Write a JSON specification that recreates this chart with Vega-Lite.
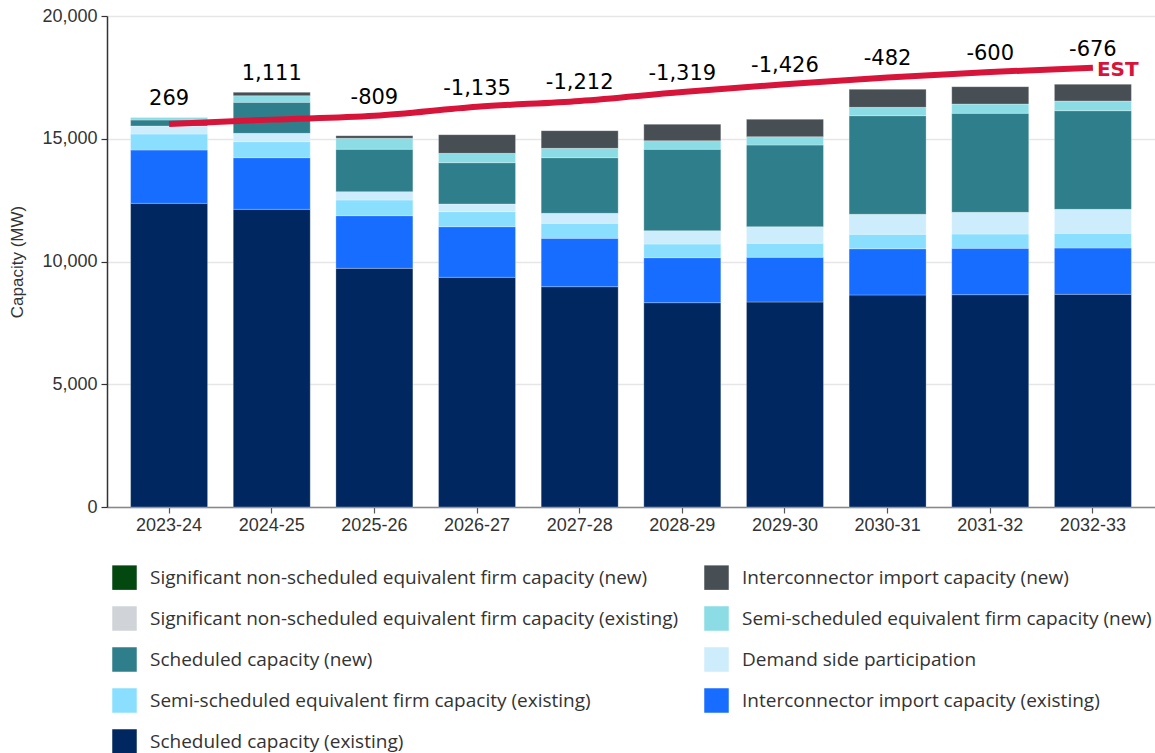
{
  "$schema": "https://vega.github.io/schema/vega-lite/v6.json",
  "autosize": {"type": "none"},
  "padding": {"left": 107, "top": 16, "right": 0, "bottom": 246},
  "width": 1048,
  "height": 491,
  "background": "white",
  "config": {
    "view": {"stroke": null},
    "font": "Liberation Sans",
    "locale": {"number": {"decimal": ".", "thousands": ",", "grouping": [3], "currency": ["$", ""], "minus": "-"}}
  },
  "datasets": {
    "capacity": [
      {"year": "2023-24", "category": "Scheduled capacity (existing)", "mw": 12370},
      {"year": "2023-24", "category": "Interconnector import capacity (existing)", "mw": 2172},
      {"year": "2023-24", "category": "Semi-scheduled equivalent firm capacity (existing)", "mw": 651},
      {"year": "2023-24", "category": "Demand side participation", "mw": 326},
      {"year": "2023-24", "category": "Scheduled capacity (new)", "mw": 245},
      {"year": "2023-24", "category": "Semi-scheduled equivalent firm capacity (new)", "mw": 110},
      {"year": "2023-24", "category": "Interconnector import capacity (new)", "mw": 0},

      {"year": "2024-25", "category": "Scheduled capacity (existing)", "mw": 12126},
      {"year": "2024-25", "category": "Interconnector import capacity (existing)", "mw": 2102},
      {"year": "2024-25", "category": "Semi-scheduled equivalent firm capacity (existing)", "mw": 652},
      {"year": "2024-25", "category": "Demand side participation", "mw": 340},
      {"year": "2024-25", "category": "Scheduled capacity (new)", "mw": 1262},
      {"year": "2024-25", "category": "Semi-scheduled equivalent firm capacity (new)", "mw": 271},
      {"year": "2024-25", "category": "Interconnector import capacity (new)", "mw": 137},

      {"year": "2025-26", "category": "Scheduled capacity (existing)", "mw": 9723},
      {"year": "2025-26", "category": "Interconnector import capacity (existing)", "mw": 2143},
      {"year": "2025-26", "category": "Semi-scheduled equivalent firm capacity (existing)", "mw": 639},
      {"year": "2025-26", "category": "Demand side participation", "mw": 340},
      {"year": "2025-26", "category": "Scheduled capacity (new)", "mw": 1727},
      {"year": "2025-26", "category": "Semi-scheduled equivalent firm capacity (new)", "mw": 448},
      {"year": "2025-26", "category": "Interconnector import capacity (new)", "mw": 106},

      {"year": "2026-27", "category": "Scheduled capacity (existing)", "mw": 9356},
      {"year": "2026-27", "category": "Interconnector import capacity (existing)", "mw": 2062},
      {"year": "2026-27", "category": "Semi-scheduled equivalent firm capacity (existing)", "mw": 612},
      {"year": "2026-27", "category": "Demand side participation", "mw": 312},
      {"year": "2026-27", "category": "Scheduled capacity (new)", "mw": 1683},
      {"year": "2026-27", "category": "Semi-scheduled equivalent firm capacity (new)", "mw": 382},
      {"year": "2026-27", "category": "Interconnector import capacity (new)", "mw": 759},

      {"year": "2027-28", "category": "Scheduled capacity (existing)", "mw": 8974},
      {"year": "2027-28", "category": "Interconnector import capacity (existing)", "mw": 1971},
      {"year": "2027-28", "category": "Semi-scheduled equivalent firm capacity (existing)", "mw": 611},
      {"year": "2027-28", "category": "Demand side participation", "mw": 407},
      {"year": "2027-28", "category": "Scheduled capacity (new)", "mw": 2265},
      {"year": "2027-28", "category": "Semi-scheduled equivalent firm capacity (new)", "mw": 382},
      {"year": "2027-28", "category": "Interconnector import capacity (new)", "mw": 719},

      {"year": "2028-29", "category": "Scheduled capacity (existing)", "mw": 8322},
      {"year": "2028-29", "category": "Interconnector import capacity (existing)", "mw": 1833},
      {"year": "2028-29", "category": "Semi-scheduled equivalent firm capacity (existing)", "mw": 558},
      {"year": "2028-29", "category": "Demand side participation", "mw": 542},
      {"year": "2028-29", "category": "Scheduled capacity (new)", "mw": 3315},
      {"year": "2028-29", "category": "Semi-scheduled equivalent firm capacity (new)", "mw": 351},
      {"year": "2028-29", "category": "Interconnector import capacity (new)", "mw": 668},

      {"year": "2029-30", "category": "Scheduled capacity (existing)", "mw": 8350},
      {"year": "2029-30", "category": "Interconnector import capacity (existing)", "mw": 1821},
      {"year": "2029-30", "category": "Semi-scheduled equivalent firm capacity (existing)", "mw": 570},
      {"year": "2029-30", "category": "Demand side participation", "mw": 677},
      {"year": "2029-30", "category": "Scheduled capacity (new)", "mw": 3327},
      {"year": "2029-30", "category": "Semi-scheduled equivalent firm capacity (new)", "mw": 339},
      {"year": "2029-30", "category": "Interconnector import capacity (new)", "mw": 708},

      {"year": "2030-31", "category": "Scheduled capacity (existing)", "mw": 8635},
      {"year": "2030-31", "category": "Interconnector import capacity (existing)", "mw": 1886},
      {"year": "2030-31", "category": "Semi-scheduled equivalent firm capacity (existing)", "mw": 587},
      {"year": "2030-31", "category": "Demand side participation", "mw": 815},
      {"year": "2030-31", "category": "Scheduled capacity (new)", "mw": 4016},
      {"year": "2030-31", "category": "Semi-scheduled equivalent firm capacity (new)", "mw": 342},
      {"year": "2030-31", "category": "Interconnector import capacity (new)", "mw": 733},

      {"year": "2031-32", "category": "Scheduled capacity (existing)", "mw": 8648},
      {"year": "2031-32", "category": "Interconnector import capacity (existing)", "mw": 1889},
      {"year": "2031-32", "category": "Semi-scheduled equivalent firm capacity (existing)", "mw": 583},
      {"year": "2031-32", "category": "Demand side participation", "mw": 884},
      {"year": "2031-32", "category": "Scheduled capacity (new)", "mw": 4032},
      {"year": "2031-32", "category": "Semi-scheduled equivalent firm capacity (new)", "mw": 379},
      {"year": "2031-32", "category": "Interconnector import capacity (new)", "mw": 706},

      {"year": "2032-33", "category": "Scheduled capacity (existing)", "mw": 8664},
      {"year": "2032-33", "category": "Interconnector import capacity (existing)", "mw": 1886},
      {"year": "2032-33", "category": "Semi-scheduled equivalent firm capacity (existing)", "mw": 598},
      {"year": "2032-33", "category": "Demand side participation", "mw": 978},
      {"year": "2032-33", "category": "Scheduled capacity (new)", "mw": 4017},
      {"year": "2032-33", "category": "Semi-scheduled equivalent firm capacity (new)", "mw": 395},
      {"year": "2032-33", "category": "Interconnector import capacity (new)", "mw": 679}
    ],
    "standard": [
      {"year": "2023-24", "est": 15605, "surplus": 269},
      {"year": "2024-25", "est": 15779, "surplus": 1111},
      {"year": "2025-26", "est": 15933, "surplus": -809},
      {"year": "2026-27", "est": 16301, "surplus": -1135},
      {"year": "2027-28", "est": 16541, "surplus": -1212},
      {"year": "2028-29", "est": 16908, "surplus": -1319},
      {"year": "2029-30", "est": 17218, "surplus": -1426},
      {"year": "2030-31", "est": 17496, "surplus": -482},
      {"year": "2031-32", "est": 17721, "surplus": -600},
      {"year": "2032-33", "est": 17893, "surplus": -676}
    ]
  },
  "encoding": {
    "x": {
      "field": "year",
      "type": "nominal",
      "scale": {"paddingInner": 0.25, "paddingOuter": 0.23},
      "axis": {
        "title": null,
        "labelAngle": 0,
        "labelFontSize": 18,
        "labelColor": "#333333",
        "labelPadding": 3,
        "domainColor": "#888888",
        "domainWidth": 1.5,
        "tickColor": "#555555",
        "tickSize": 6,
        "tickWidth": 1.2
      }
    }
  },
  "layer": [
    {
      "data": {"name": "capacity"},
      "transform": [
        {"calculate": "indexof(['Scheduled capacity (existing)', 'Interconnector import capacity (existing)', 'Semi-scheduled equivalent firm capacity (existing)', 'Demand side participation', 'Scheduled capacity (new)', 'Semi-scheduled equivalent firm capacity (new)', 'Interconnector import capacity (new)'], datum.category)", "as": "stackOrder"}
      ],
      "mark": {"type": "bar", "stroke": "#ffffff", "strokeWidth": 0.6, "strokeOpacity": 0.45},
      "encoding": {
        "y": {
          "field": "mw",
          "type": "quantitative",
          "stack": "zero",
          "scale": {"domain": [0, 20000], "nice": false},
          "axis": {
            "title": "Capacity (MW)",
            "titleFontSize": 17,
            "titleFontWeight": "normal",
            "titleColor": "#333333",
            "titlePadding": 15,
            "values": [0, 5000, 10000, 15000, 20000],
            "format": ",d",
            "labelFontSize": 18,
            "labelColor": "#333333",
            "labelPadding": 4,
            "domainColor": "#333333",
            "domainWidth": 1.5,
            "tickColor": "#333333",
            "tickSize": 6,
            "tickWidth": 1.2,
            "grid": true,
            "gridColor": "#e6e6e6",
            "gridWidth": 1.5
          }
        },
        "order": {"field": "stackOrder", "type": "quantitative"},
        "color": {
          "field": "category",
          "type": "nominal",
          "scale": {
            "domain": [
              "Significant non-scheduled equivalent firm capacity (new)",
              "Significant non-scheduled equivalent firm capacity (existing)",
              "Scheduled capacity (new)",
              "Semi-scheduled equivalent firm capacity (existing)",
              "Scheduled capacity (existing)",
              "Interconnector import capacity (new)",
              "Semi-scheduled equivalent firm capacity (new)",
              "Demand side participation",
              "Interconnector import capacity (existing)"
            ],
            "range": ["#03480f", "#d0d4d8", "#2e7f8b", "#8adfff", "#00275f", "#474f54", "#8bdce5", "#cdecfc", "#166dff"]
          },
          "legend": {
            "title": null,
            "orient": "none",
            "legendX": 5,
            "legendY": 549,
            "columns": 2,
            "columnPadding": 25,
            "rowPadding": 16,
            "padding": 0,
            "symbolType": "square",
            "symbolSize": 600,
            "symbolStrokeWidth": 0,
            "labelFont": "Open Sans",
            "labelFontSize": 19,
            "labelColor": "#333333",
            "labelOffset": 13,
            "labelLimit": 700
          }
        }
      }
    },
    {
      "data": {"name": "standard"},
      "mark": {"type": "line", "color": "#d7153a", "strokeWidth": 6, "interpolate": "monotone"},
      "encoding": {
        "y": {"field": "est", "type": "quantitative"}
      }
    },
    {
      "data": {"name": "standard"},
      "transform": [
        {"calculate": "datum.est + max(0, datum.surplus)", "as": "labelBase"}
      ],
      "mark": {"type": "text", "font": "DejaVu Sans", "fontSize": 21, "color": "#000000", "dy": -18, "baseline": "middle"},
      "encoding": {
        "y": {"field": "labelBase", "type": "quantitative"},
        "text": {"field": "surplus", "type": "quantitative", "format": ",d"}
      }
    },
    {
      "data": {"name": "standard"},
      "transform": [{"filter": "datum.year == '2032-33'"}],
      "mark": {"type": "text", "text": "EST", "font": "DejaVu Sans", "fontSize": 20, "fontWeight": "bold", "color": "#d7153a", "align": "left", "baseline": "middle", "dx": 4, "dy": 2},
      "encoding": {
        "y": {"field": "est", "type": "quantitative"}
      }
    }
  ]
}
